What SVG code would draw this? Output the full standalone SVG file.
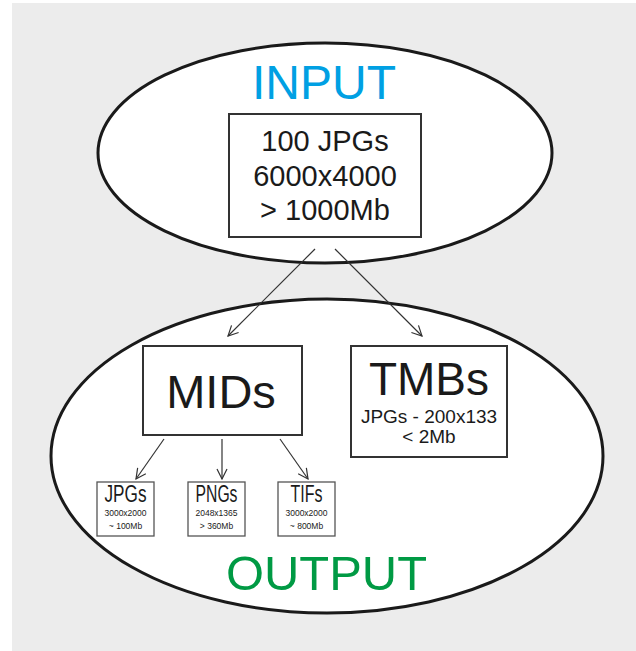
<svg xmlns="http://www.w3.org/2000/svg" width="636" height="651" viewBox="0 0 636 651">
  <style>
    .bg { fill: #ececec; }
    .zone { fill: #ffffff; stroke: #1a1a1a; stroke-width: 3; }
    .box { fill: #ffffff; stroke: #333333; stroke-width: 2; }
    .sbox { fill: #ffffff; stroke: #555555; stroke-width: 1.3; }
    .t { font-family: "Liberation Sans", Arial, sans-serif; fill: #1a1a1a; text-anchor: middle; }
    .title { font-family: "Liberation Sans", Arial, sans-serif; text-anchor: middle; font-size: 48px; }
    .conn line { stroke: #333333; stroke-width: 1.2; fill: none; }
  </style>
  <defs>
    <marker id="vhead" viewBox="0 0 12 12" refX="11" refY="6" markerWidth="12" markerHeight="12" markerUnits="userSpaceOnUse" orient="auto">
      <path d="M1,1 L11,6 L1,11" fill="none" stroke="#333333" stroke-width="1.2"/>
    </marker>
  </defs>

  <rect class="bg" x="12" y="3" width="624" height="648"/>

  <!-- input zone -->
  <g id="input-zone">
    <ellipse class="zone" cx="325" cy="153" rx="227" ry="110"/>
    <text class="title" x="324" y="99" fill="#00a0e3">INPUT</text>
  </g>

  <!-- output zone -->
  <g id="output-zone">
    <ellipse class="zone" cx="327" cy="456" rx="276" ry="157"/>
    <text class="title" x="326.5" y="590" fill="#009a44" font-size="49" textLength="201" lengthAdjust="spacingAndGlyphs">OUTPUT</text>
  </g>

  <g id="source">
    <rect class="box" x="229" y="114" width="192" height="123"/>
    <text class="t" x="325" y="151" font-size="29">100 JPGs</text>
    <text class="t" x="325" y="186" font-size="29">6000x4000</text>
    <text class="t" x="325" y="220" font-size="29">&gt; 1000Mb</text>
  </g>

  <g id="mids">
    <rect class="box" x="143" y="346" width="159" height="89"/>
    <text class="t" x="221" y="408" font-size="47">MIDs</text>
  </g>

  <g id="tmbs">
    <rect class="box" x="351" y="346" width="156" height="111"/>
    <text class="t" x="429" y="395" font-size="46">TMBs</text>
    <text class="t" x="429" y="423" font-size="19">JPGs - 200x133</text>
    <text class="t" x="429" y="443" font-size="19">&lt; 2Mb</text>
  </g>

  <g id="mid-jpgs">
    <rect class="sbox" x="97" y="482" width="57" height="54"/>
    <text class="t" x="125.5" y="502" font-size="23" textLength="42" lengthAdjust="spacingAndGlyphs">JPGs</text>
    <text class="t" x="125.5" y="516" font-size="8.5">3000x2000</text>
    <text class="t" x="125.5" y="529" font-size="8.5">~ 100Mb</text>
  </g>

  <g id="mid-pngs">
    <rect class="sbox" x="188" y="482" width="57" height="54"/>
    <text class="t" x="216.5" y="502" font-size="23" textLength="42" lengthAdjust="spacingAndGlyphs">PNGs</text>
    <text class="t" x="216.5" y="516" font-size="8.5">2048x1365</text>
    <text class="t" x="216.5" y="529" font-size="8.5">&gt; 360Mb</text>
  </g>

  <g id="mid-tifs">
    <rect class="sbox" x="278" y="482" width="57" height="54"/>
    <text class="t" x="306.5" y="502" font-size="23" textLength="32" lengthAdjust="spacingAndGlyphs">TIFs</text>
    <text class="t" x="306.5" y="516" font-size="8.5">3000x2000</text>
    <text class="t" x="306.5" y="529" font-size="8.5">~ 800Mb</text>
  </g>

  <g id="connectors" class="conn">
    <line x1="315" y1="249" x2="228" y2="336" marker-end="url(#vhead)"/>
    <line x1="335" y1="249" x2="422" y2="336" marker-end="url(#vhead)"/>
    <line x1="164" y1="439" x2="136" y2="479" marker-end="url(#vhead)"/>
    <line x1="222" y1="439" x2="222" y2="479" marker-end="url(#vhead)"/>
    <line x1="280" y1="439" x2="308" y2="479" marker-end="url(#vhead)"/>
  </g>
</svg>
